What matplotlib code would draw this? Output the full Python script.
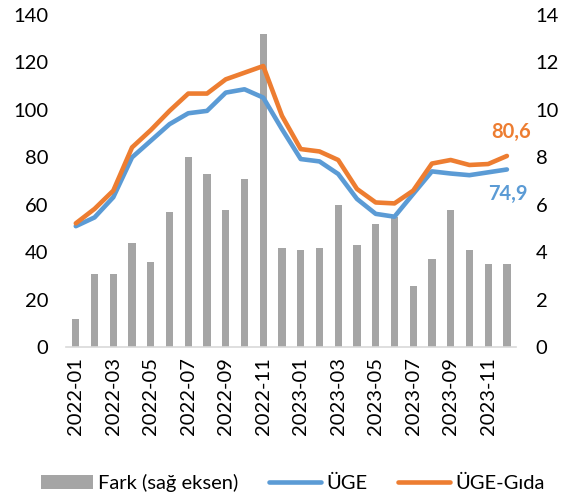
import matplotlib.pyplot as plt
import numpy as np

plt.rcParams['font.family'] = ['Lato', 'DejaVu Sans']

aylar = ['2022-01', '2022-02', '2022-03', '2022-04', '2022-05', '2022-06',
         '2022-07', '2022-08', '2022-09', '2022-10', '2022-11', '2022-12',
         '2023-01', '2023-02', '2023-03', '2023-04', '2023-05', '2023-06',
         '2023-07', '2023-08', '2023-09', '2023-10', '2023-11', '2023-12']

uge = [51.0, 54.7, 63.2, 80.0, 87.0, 94.0, 98.6, 99.6, 107.3, 108.7, 105.2, 91.9,
       79.3, 78.3, 73.0, 62.5, 56.2, 55.0, 64.6, 74.1, 73.2, 72.5, 73.7, 74.9]

uge_gida = [52.2, 58.3, 66.0, 84.2, 91.5, 99.6, 106.9, 106.9, 112.9, 115.7, 118.5, 97.5,
            83.5, 82.5, 78.9, 66.7, 61.0, 60.6, 66.0, 77.4, 78.9, 76.8, 77.2, 80.6]

fark = [1.2, 3.1, 3.1, 4.4, 3.6, 5.7, 8.0, 7.3, 5.8, 7.1, 13.2, 4.2,
        4.1, 4.2, 6.0, 4.3, 5.2, 5.5, 2.6, 3.7, 5.8, 4.1, 3.5, 3.5]

gri = '#A5A5A5'
mavi = '#5B9BD5'
turuncu = '#ED7D31'

x = np.arange(len(aylar))

fig = plt.figure(figsize=(5.63, 5.01), dpi=100)
ax = fig.add_axes([0.118, 0.307, 0.799, 0.663])
ax2 = ax.twinx()

# barlar sag eksende, cizgiler sol eksende (ustte)
ax2.bar(x, fark, width=0.39, color=gri, label='Fark (sağ eksen)', zorder=1)
ax.set_zorder(ax2.get_zorder() + 1)
ax.patch.set_visible(False)
ax.plot(x, uge, color=mavi, lw=3.3, label='ÜGE', solid_capstyle='round')
ax.plot(x, uge_gida, color=turuncu, lw=3.3, label='ÜGE-Gıda', solid_capstyle='round')

ax.set_ylim(0, 140)
ax.set_yticks(range(0, 141, 20))
ax2.set_ylim(0, 14)
ax2.set_yticks(range(0, 15, 2))
ax.set_xlim(-0.5, len(aylar) - 0.5)
ax.set_xticks(x[::2])
ax.set_xticklabels(aylar[::2], rotation=90)

for a in (ax, ax2):
    for s in a.spines.values():
        s.set_visible(False)
    a.tick_params(length=0, labelsize=14.5, colors='black')
ax.spines['bottom'].set_visible(True)
ax.spines['bottom'].set_color('#D9D9D9')
ax.spines['bottom'].set_linewidth(1.2)
ax.tick_params(axis='y', pad=13)
ax2.tick_params(axis='y', pad=14)
ax.tick_params(axis='x', pad=7)

ax.text(x[-1] + 0.25, uge_gida[-1] + 6, '80,6', color=turuncu, fontsize=14.5,
        fontweight='bold', ha='center', va='bottom')
ax.text(x[-1] + 0.05, uge[-1] - 6, '74,9', color=mavi, fontsize=14.5,
        fontweight='bold', ha='center', va='top')

h1, l1 = ax2.get_legend_handles_labels()
h2, l2 = ax.get_legend_handles_labels()
fig.legend(h1 + h2, l1 + l2, loc='center', bbox_to_anchor=(0.52, 0.036), ncol=3,
           frameon=False, fontsize=14.5, handlelength=2.6, handletextpad=0.25,
           columnspacing=1.5)

fig.savefig('out.png', dpi=100)
